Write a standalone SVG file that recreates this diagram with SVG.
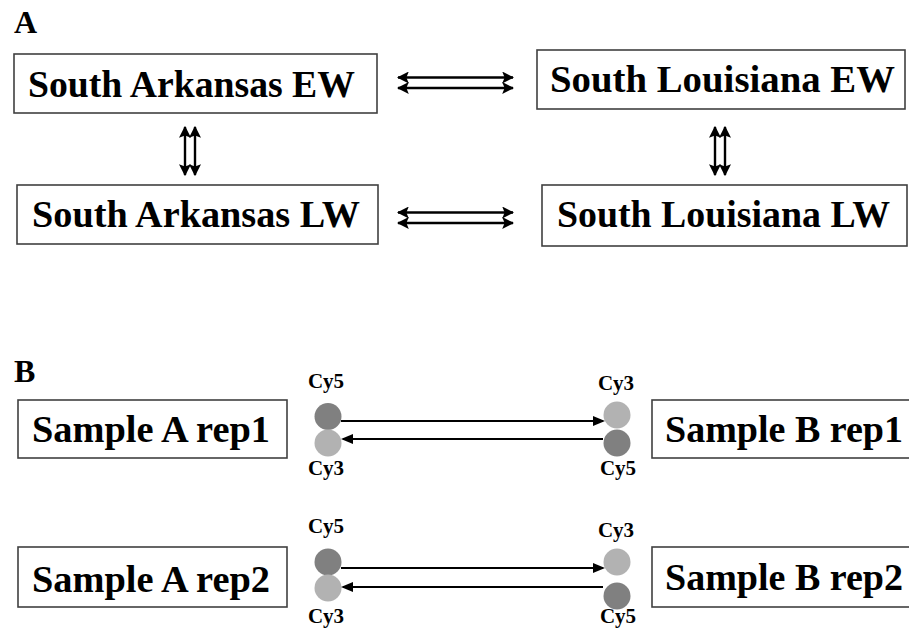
<svg xmlns="http://www.w3.org/2000/svg" width="909" height="633" viewBox="0 0 909 633">
<style>
.box{fill:#fff;stroke:#404040;stroke-width:1.6}
.lbl{font-family:"Liberation Serif","Times New Roman",serif;font-weight:bold;font-size:38px;fill:#000}
.panel{font-family:"Liberation Serif","Times New Roman",serif;font-weight:bold;font-size:32px;fill:#000}
.cy{font-family:"Liberation Serif","Times New Roman",serif;font-weight:bold;font-size:21px;fill:#000;text-anchor:middle}
.dbl{stroke:#000;stroke-width:2.4;fill:none;marker-start:url(#ah);marker-end:url(#ah)}
.one{stroke:#000;stroke-width:2;fill:none;marker-end:url(#ah2)}
.dark{fill:#808080}
.light{fill:#b2b2b2}
</style>
<defs>
<marker id="ah" markerUnits="userSpaceOnUse" markerWidth="12" markerHeight="12" refX="9" refY="5" orient="auto-start-reverse" viewBox="0 0 10 10">
<path d="M0,0 L10,5 L0,10 L2,5 Z" fill="#000"/>
</marker>
<marker id="ah2" markerUnits="userSpaceOnUse" markerWidth="12" markerHeight="10" refX="10" refY="5" orient="auto" viewBox="0 0 12 10">
<path d="M0,0 L12,5 L0,10 Z" fill="#000"/>
</marker>
</defs>
<rect width="909" height="633" fill="#fff"/>
<text class="panel" x="14" y="33">A</text>
<text class="panel" x="14" y="382">B</text>

<g id="sa_ew"><rect class="box" x="14" y="54" width="363" height="59"/><text class="lbl" x="28" y="97" textLength="327" lengthAdjust="spacingAndGlyphs">South Arkansas EW</text></g>
<g id="sa_lw"><rect class="box" x="17" y="185" width="361" height="59"/><text class="lbl" x="32" y="227" textLength="328" lengthAdjust="spacingAndGlyphs">South Arkansas LW</text></g>
<g id="sl_ew"><rect class="box" x="537" y="50" width="368" height="59"/><text class="lbl" x="550" y="92" textLength="345" lengthAdjust="spacingAndGlyphs">South Louisiana EW</text></g>
<g id="sl_lw"><rect class="box" x="542" y="185" width="365" height="61"/><text class="lbl" x="557" y="227" textLength="333" lengthAdjust="spacingAndGlyphs">South Louisiana LW</text></g>

<g id="a_rep1"><rect class="box" x="18" y="400" width="269" height="58"/><text class="lbl" x="32" y="442" textLength="238" lengthAdjust="spacingAndGlyphs">Sample A rep1</text></g>
<g id="a_rep2"><rect class="box" x="18" y="547" width="269" height="60"/><text class="lbl" x="32" y="592" textLength="238" lengthAdjust="spacingAndGlyphs">Sample A rep2</text></g>
<g id="b_rep1"><rect class="box" x="652" y="400" width="270" height="58"/><text class="lbl" x="665" y="442" textLength="238" lengthAdjust="spacingAndGlyphs">Sample B rep1</text></g>
<g id="b_rep2"><rect class="box" x="652" y="547" width="270" height="60"/><text class="lbl" x="665" y="590" textLength="238" lengthAdjust="spacingAndGlyphs">Sample B rep2</text></g>

<g id="dyes">
<circle class="dark" cx="328" cy="416.5" r="13.5"/>
<circle class="light" cx="328" cy="443" r="13.5"/>
<circle class="light" cx="617" cy="415" r="13.5"/>
<circle class="dark" cx="617" cy="443" r="13.5"/>
<circle class="dark" cx="328" cy="562" r="13.5"/>
<circle class="light" cx="328" cy="588" r="13.5"/>
<circle class="light" cx="617" cy="562" r="13.5"/>
<circle class="dark" cx="617" cy="596" r="13.5"/>
<text class="cy" x="326" y="388">Cy5</text>
<text class="cy" x="326" y="475">Cy3</text>
<text class="cy" x="616" y="390">Cy3</text>
<text class="cy" x="618" y="475">Cy5</text>
<text class="cy" x="326" y="533">Cy5</text>
<text class="cy" x="326" y="623">Cy3</text>
<text class="cy" x="616" y="537">Cy3</text>
<text class="cy" x="618" y="623">Cy5</text>
</g>

<g id="connectors">
<line class="dbl" x1="398" y1="77.5" x2="513" y2="77.5"/>
<line class="dbl" x1="398" y1="88" x2="513" y2="88"/>
<line class="dbl" x1="398" y1="212.5" x2="513" y2="212.5"/>
<line class="dbl" x1="398" y1="223" x2="513" y2="223"/>
<line class="dbl" x1="185" y1="127" x2="185" y2="175"/>
<line class="dbl" x1="195" y1="127" x2="195" y2="175"/>
<line class="dbl" x1="715" y1="127" x2="715" y2="175"/>
<line class="dbl" x1="725" y1="127" x2="725" y2="175"/>
<line class="one" x1="341" y1="421" x2="603" y2="421"/>
<line class="one" x1="603" y1="439" x2="343" y2="439"/>
<line class="one" x1="341" y1="568" x2="603" y2="568"/>
<line class="one" x1="603" y1="587" x2="343" y2="587"/>
</g>
</svg>
